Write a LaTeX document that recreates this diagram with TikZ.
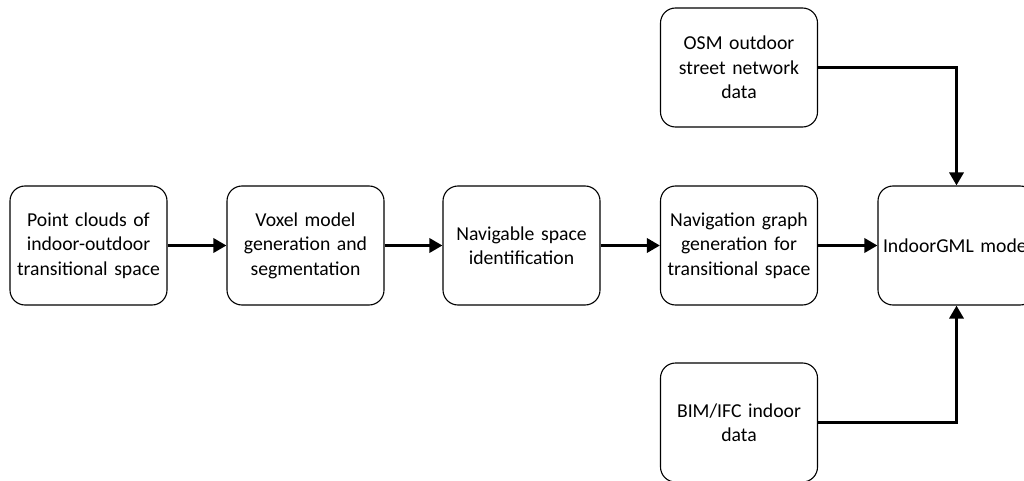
\documentclass[tikz,border=0pt]{standalone}
\usepackage{fontspec}
\setmainfont{Carlito}
\usetikzlibrary{arrows.meta}
\begin{document}
\begin{tikzpicture}[x=1pt,y=-1pt,
  box/.style={draw=black, line width=1.1pt, rounded corners=15pt, minimum width=157pt, minimum height=119pt, align=center, inner sep=2pt, font=\fontsize{19.7}{24.5}\selectfont, text width=152pt},
  conn/.style={line width=3.8pt, -{Triangle[length=13pt,width=14pt]}},
]
\useasboundingbox (0,0) rectangle (1024,481);
\clip (0,0) rectangle (1024,481);
\fill[white] (0,0) rectangle (1024,481);
\node[box] (pc) at (88.5,245.5) {Point clouds of\\indoor-outdoor\\transitional space};
\node[box] (vm) at (305.5,245.5) {Voxel model\\generation and\\segmentation};
\node[box] (ns) at (521.5,245.5) {Navigable space\\identification};
\node[box] (ng) at (739,245.5) {Navigation graph\\generation for\\transitional space};
\node[box, align=left] (ig) at (956.5,245.5) {\hspace*{2.5pt}IndoorGML model};
\node[box] (osm) at (739,67.5) {OSM outdoor\\street network\\data};
\node[box] (bim) at (739,422.5) {BIM/IFC indoor\\data};
\draw[conn] (pc) -- (vm);
\draw[conn] (vm) -- (ns);
\draw[conn] (ns) -- (ng);
\draw[conn] (ng) -- (ig);
\draw[conn] (osm.east) -| (ig.north);
\draw[conn] (bim.east) -| (ig.south);
\end{tikzpicture}
\end{document}
